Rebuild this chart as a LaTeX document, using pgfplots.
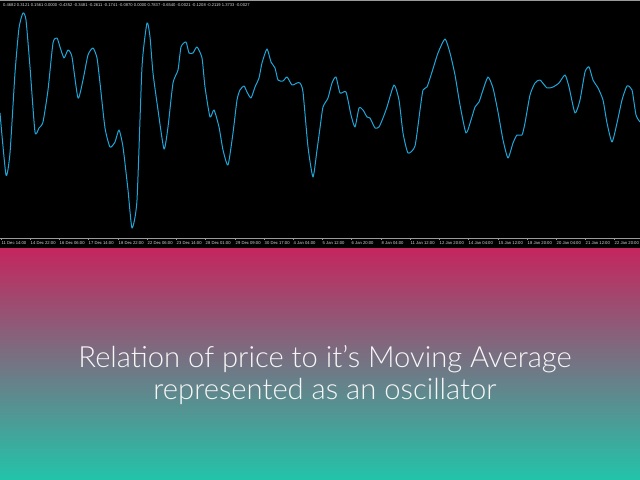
\documentclass[border=0pt]{standalone}
\usepackage{pgfplots}
\pgfplotsset{compat=1.18}
\usepackage{fontspec}
\setmainfont{Liberation Sans}
\newfontfamily\titlefont{Lato Light}

\definecolor{osccyan}{HTML}{1EA6DA}
\definecolor{topcrimson}{HTML}{C4265E}
\definecolor{bottomteal}{HTML}{22C4AA}
\definecolor{axisgray}{HTML}{9A9A9A}
\definecolor{labelgray}{HTML}{D8D8D8}

% oscillator (x = bar position, y = height above the time axis)
\pgfplotstableread{
x y
0 125
6 63
10 85
15 165
19 210
23 225
26 218
30 171
35 106
39 110
43 116
48 148
53 195
57 200
60 191
64 180
68 188
72 181
78 140
83 158
88 183
93 190
97 180
100 155
105 110
110 91
115 96
119 108
123 91
128 48
132 10
137 38
142 171
147 215
150 201
153 165
158 128
164 89
168 111
173 155
178 168
181 191
186 196
189 185
193 185
197 191
202 180
205 151
210 121
214 128
219 111
223 88
228 73
233 105
237 138
240 148
244 152
247 146
251 140
255 151
259 160
262 175
267 189
271 176
275 170
278 158
283 157
287 161
292 153
297 155
300 155
303 146
308 91
313 61
317 88
320 110
323 131
328 140
332 155
336 161
340 145
346 146
351 123
355 111
359 130
363 128
367 121
370 120
375 110
379 111
383 120
387 131
394 153
399 138
403 105
408 85
415 92
420 128
423 148
427 151
432 166
438 185
445 199
450 185
455 163
460 133
466 105
471 118
475 131
479 136
483 148
488 161
493 150
498 126
503 98
508 80
513 95
517 103
522 103
525 115
530 143
535 155
540 158
547 150
553 151
559 155
565 163
569 151
575 125
580 138
585 166
589 171
593 158
598 150
603 138
607 115
612 96
617 115
622 138
627 152
632 148
636 123
640 116
}\osc

\begin{document}
\begin{tikzpicture}[x=1bp,y=1bp]
\useasboundingbox (0,0) rectangle (640,480);
\shade[top color=topcrimson, bottom color=bottomteal] (0,0) rectangle (640,232);
\fill[black] (0,232) rectangle (640,480);

\begin{axis}[
    at={(0bp,242bp)}, anchor=south west,
    width=640bp, height=238bp, scale only axis,
    xmin=0, xmax=640, ymin=0, ymax=238,
    axis x line=box, axis y line=none,
    axis line style={axisgray, line width=0.8bp},
    xtick pos=bottom, tick align=outside,
    major tick length=2bp,
    tick style={axisgray, line width=0.6bp},
    xtick={1,30,59,88,118,147,176,205,235,264,293,322,351,381,410,439,468,498,527,556,585,614},
    xticklabels={11 Dec 14:00,14 Dec 22:00,16 Dec 06:00,17 Dec 14:00,18 Dec 22:00,22 Dec 06:00,23 Dec 14:00,28 Dec 01:00,29 Dec 09:00,30 Dec 17:00,4 Jan 04:00,5 Jan 12:00,6 Jan 20:00,8 Jan 04:00,11 Jan 12:00,12 Jan 20:00,14 Jan 04:00,15 Jan 12:00,18 Jan 20:00,20 Jan 04:00,21 Jan 12:00,22 Jan 20:00},
    xticklabel style={font=\fontsize{4.2}{5}\selectfont, text=labelgray,
        anchor=north west, inner sep=0pt, xshift=0.5bp, yshift=-1bp},
    ytick=\empty,
]
\addplot[osccyan, line width=1bp, line join=round, mark=none, smooth, tension=0.35] table[x=x, y=y] {\osc};
\end{axis}

\node[anchor=north west, inner sep=0pt, text=labelgray,
      font=\fontsize{4.15}{5}\selectfont] at (3,476.5)
  {0.4682 0.3121 0.1561 0.0000 -0.4352 -0.3481 -0.2611 -0.1741 -0.0870 0.0000 0.7837 -0.6540 -0.0021 -0.1208 -0.2119 1.3733 -0.0027};

\node[align=center, text=white!94!gray, inner sep=0pt,
      font=\titlefont\fontsize{29.3}{33}\selectfont] at (325,105)
  {Relation of price to it’s Moving Average\\represented as an oscillator};
\end{tikzpicture}
\end{document}
